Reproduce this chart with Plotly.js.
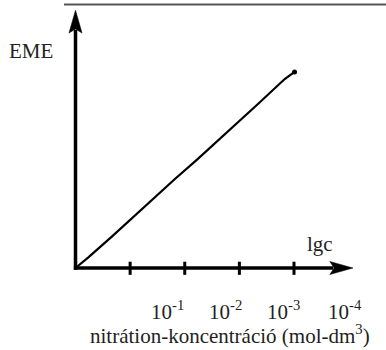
<!DOCTYPE html>
<html>
<head>
<meta charset="utf-8">
<script src="https://cdn.plot.ly/plotly-3.0.1.min.js"></script>
<style>
html,body{margin:0;padding:0;background:#fff;}
#chart{width:386px;height:350px;}
</style>
</head>
<body>
<div id="chart"></div>
<script>
// Data: lgc position vs EME
const lgcValues = [0, 0.23, 0.67, 1.03, 1.42, 1.82, 2.22, 2.64, 3.01, 3.37, 3.83, 4.01];
const emeValues = [0, 0.19, 0.58, 0.91, 1.26, 1.63, 1.98, 2.36, 2.70, 3.03, 3.46, 3.59];
const tickValues = [1, 2, 3, 4];
const tickLabels = ['10<sup>-1</sup>', '10<sup>-2</sup>', '10<sup>-3</sup>', '10<sup>-4</sup>'];
const yLabel = 'EME';
const xLabel = 'lgc';
const xTitle = 'nitrátion-koncentráció (mol-dm<sup>3</sup>)';

// layout constants
const labelX = [1.675, 2.737, 3.799, 4.934];
const FONT = 'Liberation Serif';
const TXT = '#231f20';
const fontSpec = {family: FONT, size: 21, color: TXT};

const shapes = [];
shapes.push({type:'line', xref:'paper', yref:'paper', x0:64/386, x1:1, y0:1-4.5/350, y1:1-4.5/350,
  line:{color:'#555', width:1.8}});
shapes.push({type:'line', xref:'x', yref:'y', x0:-0.03, x1:4.72, y0:0, y1:0, line:{color:'#000', width:3.5}});
shapes.push({type:'line', xref:'x', yref:'y', x0:0, x1:0, y0:-0.03, y1:4.36, line:{color:'#000', width:3.5}});
const hw = 0.12;
shapes.push({type:'path', xref:'x', yref:'y',
  path:`M 5.08 0 L 4.655 ${hw} L 4.735 0 L 4.655 ${-hw} Z`, fillcolor:'#000', line:{color:'#000', width:0.5}});
shapes.push({type:'path', xref:'x', yref:'y',
  path:`M 0 4.72 L ${-hw} 4.30 L 0 4.375 L ${hw} 4.30 Z`, fillcolor:'#000', line:{color:'#000', width:0.5}});
tickValues.forEach(t => shapes.push({type:'line', xref:'x', yref:'y', x0:t, x1:t, y0:-0.125, y1:0.115,
  line:{color:'#000', width:3}}));

const annotations = tickLabels.map((t, i) => ({
  x: labelX[i], y: -0.78, xref:'x', yref:'y', text: t, showarrow:false,
  xanchor:'center', yanchor:'middle', font: fontSpec
}));
annotations.push({x:31/386, y:1-51/350, xref:'paper', yref:'paper', text:yLabel, showarrow:false,
  xanchor:'center', yanchor:'middle', font: fontSpec});
annotations.push({x:320/386, y:1-244/350, xref:'paper', yref:'paper', text:xLabel, showarrow:false,
  xanchor:'center', yanchor:'middle', font: fontSpec});
annotations.push({x:230/386, y:1-334/350, xref:'paper', yref:'paper', text:xTitle, showarrow:false,
  xanchor:'center', yanchor:'middle', font: fontSpec});

const trace = {
  x: lgcValues, y: emeValues, type:'scatter', mode:'lines',
  line:{color:'#000', width:2.2}, hoverinfo:'skip'
};
const endDot = {
  x: [lgcValues[lgcValues.length-1]], y: [emeValues[emeValues.length-1]], type:'scatter', mode:'markers',
  marker:{color:'#000', size:5}, hoverinfo:'skip'
};

const layout = {
  width:386, height:350,
  margin:{l:0, r:0, t:0, b:0},
  font: fontSpec,
  paper_bgcolor:'#fff', plot_bgcolor:'#fff',
  showlegend:false,
  xaxis:{range:[-75.5/54.625, 310.5/54.625], visible:false, fixedrange:true},
  yaxis:{range:[-82/54.625, 268/54.625], visible:false, fixedrange:true},
  shapes: shapes,
  annotations: annotations
};

Plotly.newPlot('chart', [trace, endDot], layout, {staticPlot:true, displayModeBar:false}).then(gd => {
  gd.querySelectorAll('text.annotation-text').forEach(el => {
    el.setAttribute('font-family', FONT);
    el.setAttribute('font-size', '21');
    el.setAttribute('fill', TXT);
    el.style.fontFamily = FONT;
    el.style.fontSize = '21px';
  });
});
</script>
</body>
</html>
